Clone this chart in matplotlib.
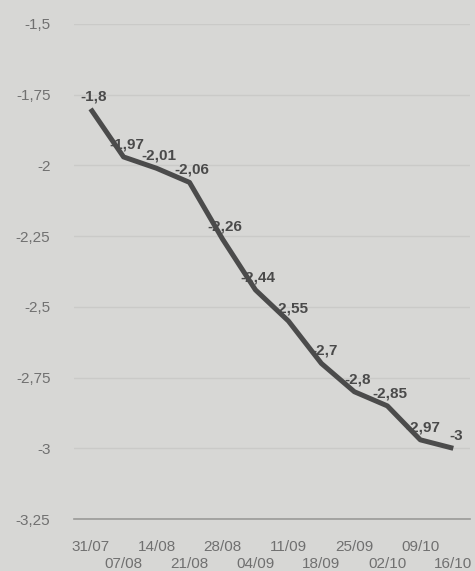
import matplotlib.pyplot as plt
from matplotlib.ticker import FixedLocator, FuncFormatter

# Data
dates = ['31/07', '07/08', '14/08', '21/08', '28/08', '04/09',
         '11/09', '18/09', '25/09', '02/10', '09/10', '16/10']
values = [-1.8, -1.97, -2.01, -2.06, -2.26, -2.44,
          -2.55, -2.7, -2.8, -2.85, -2.97, -3.0]
yticks = [-3.25, -3.0, -2.75, -2.5, -2.25, -2.0, -1.75, -1.5]

bg = '#d7d7d5'
plt.rcParams['font.family'] = ['Liberation Sans', 'DejaVu Sans']

fig = plt.figure(figsize=(4.75, 5.71), dpi=100, facecolor=bg)
ax = fig.add_axes([0.156, 0.091, 0.833, 0.867])
ax.set_facecolor(bg)

x = list(range(len(dates)))
ax.plot(x, values, color='#4b4b4b', linewidth=3.6, solid_capstyle='butt', zorder=3)

def fmt(v):
    s = ('%g' % v).replace('.', ',')
    return s

for xi, v in zip(x, values):
    ax.annotate(fmt(v), (xi, v), xytext=(2, 9), textcoords='offset points',
                ha='center', va='center', fontsize=11, fontweight='bold',
                color='#4a4a4a', zorder=4)

ax.set_xlim(-0.5, len(dates) - 0.5)
ax.set_ylim(-3.25, -1.5)
ax.set_yticks(yticks)
ax.yaxis.set_major_formatter(FuncFormatter(lambda v, p: fmt(v)))
ax.grid(axis='y', color='#cacac8', linewidth=1.0)
ax.set_axisbelow(True)

# staggered date labels: even on first row, odd on second
ax.xaxis.set_major_locator(FixedLocator(x[0::2]))
ax.xaxis.set_minor_locator(FixedLocator(x[1::2]))
ax.set_xticklabels(dates[0::2])
ax.set_xticklabels(dates[1::2], minor=True)
ax.tick_params(axis='x', which='major', length=0, pad=15, labelsize=11, labelcolor='#707070')
ax.tick_params(axis='x', which='minor', length=0, pad=27, labelsize=11, labelcolor='#707070')
ax.tick_params(axis='y', length=0, pad=17, labelsize=11, labelcolor='#707070')

for s in ['top', 'right', 'left']:
    ax.spines[s].set_visible(False)
ax.spines['bottom'].set_color('#9a9a98')
ax.spines['bottom'].set_linewidth(1.2)

fig.savefig('out.png', dpi=100, facecolor=bg)
